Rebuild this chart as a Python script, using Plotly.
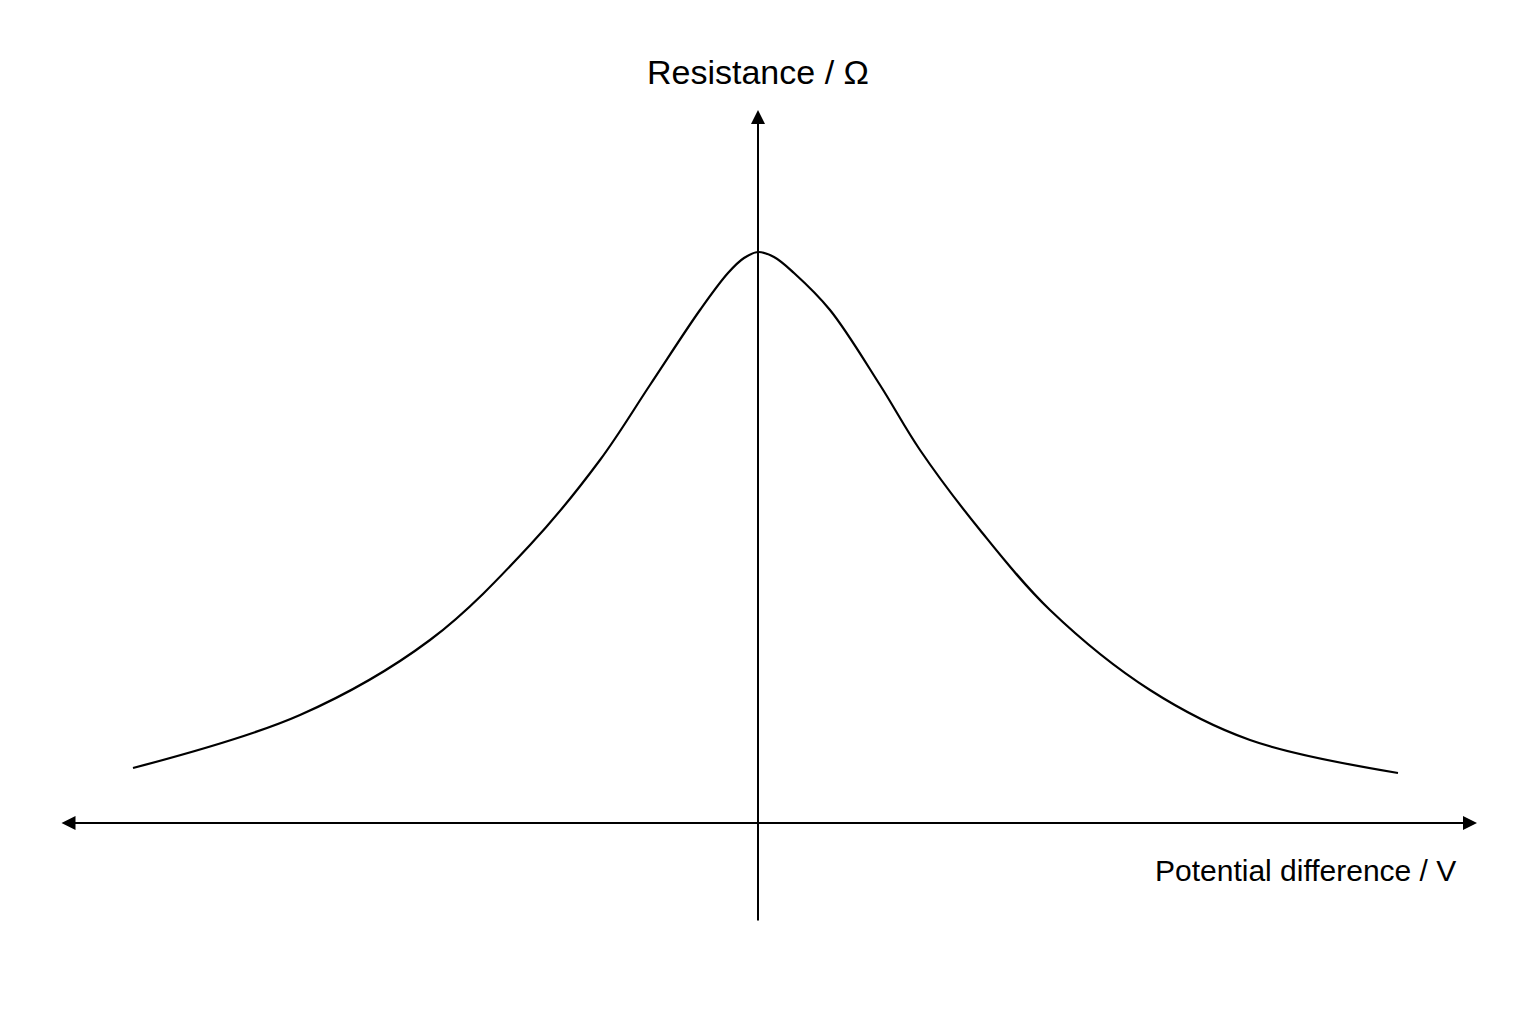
import plotly.graph_objects as go

voltage = [-6.25,-4.58,-3.28,-2.28,-1.58,-1.08,-0.58,-0.30,-0.14,0,0.16,0.36,0.72,1.22,1.62,2.22,2.92,3.92,4.92,6.40]
resistance = [0.55,1.08,1.83,2.78,3.63,4.38,5.13,5.50,5.65,5.71,5.66,5.50,5.13,4.38,3.73,2.93,2.13,1.33,0.83,0.50]
x_label = "Potential difference / V"
y_label = "Resistance / Ω"

fig = go.Figure()
fig.add_trace(go.Scatter(x=voltage, y=resistance, mode="lines",
                         line=dict(color="black", width=2.2, shape="spline", smoothing=1.0),
                         hoverinfo="skip", showlegend=False))
fig.add_annotation(x=7.19, y=0, ax=-6.98, ay=0, xref="x", yref="y", axref="x", ayref="y",
                   showarrow=True, arrowhead=2, arrowside="end+start", arrowwidth=2, arrowsize=1.4, arrowcolor="black", text="")
fig.add_annotation(x=0, y=7.13, ax=0, ay=-0.99, xref="x", yref="y", axref="x", ayref="y",
                   showarrow=True, arrowhead=2, arrowwidth=2, arrowsize=1.4, arrowcolor="black", text="")
fig.add_annotation(x=0, y=7.51, xref="x", yref="y", text=y_label, showarrow=False,
                   font=dict(family="Liberation Sans, Arial", size=34, color="black"))
fig.add_annotation(x=7.0, y=-0.47, xref="x", yref="y", text=x_label, showarrow=False, xanchor="right",
                   font=dict(family="Liberation Sans, Arial", size=30, color="black"))
fig.update_layout(width=1536, height=1024, margin=dict(l=0, r=0, t=0, b=0),
                  plot_bgcolor="white", paper_bgcolor="white",
                  xaxis=dict(range=[-7.50, 7.86], visible=False, fixedrange=True),
                  yaxis=dict(range=[-2.09, 8.15], visible=False, fixedrange=True))
fig.write_html("out.html")
